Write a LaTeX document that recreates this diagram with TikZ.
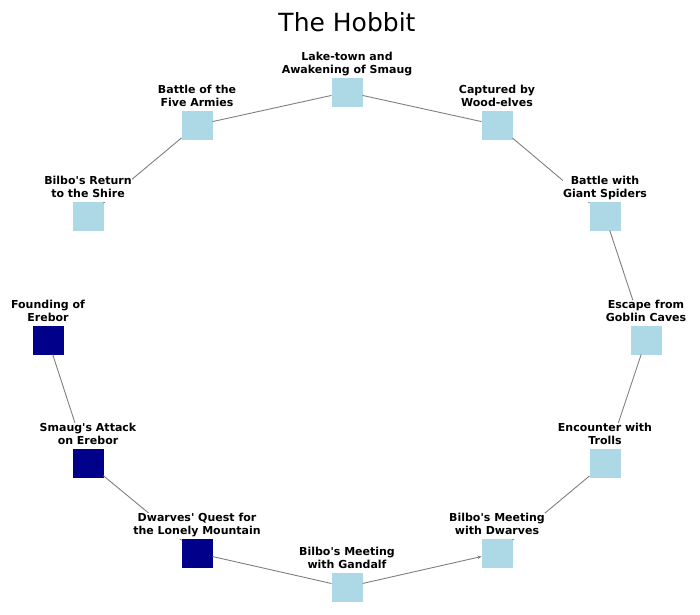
\documentclass[tikz,border=0pt]{standalone}
\usepackage{fontspec}
\setmainfont{DejaVu Sans}
\usetikzlibrary{positioning,arrows.meta}
\definecolor{eventblue}{HTML}{ADD8E6}
\definecolor{ereborblue}{HTML}{00008B}
\definecolor{linkgray}{HTML}{7F7F7F}

\begin{document}
\begin{tikzpicture}[x=1pt,y=-1pt,
  event/.style={rectangle,fill=eventblue,minimum width=31pt,minimum height=29pt,inner sep=0pt,outer sep=0pt},
  erebor/.style={event,fill=ereborblue},
  tag/.style={fill=white,inner sep=0.5pt,outer sep=0pt,align=center,font=\fontsize{11}{12.6}\selectfont\bfseries,
    execute at begin node=\rule{0pt}{12.5pt}},
  link/.style={draw=linkgray,line width=0.9pt}]
\useasboundingbox (0,0) rectangle (700,614);
\node(title) [anchor=base,font=\fontsize{25}{30}\selectfont] at (347,31) {The Hobbit};
\node(lake)     [event]  at (347,92)  {};
\node(five)     [event]  at (197,125) {};
\node(return)   [event]  at (88,216)  {};
\node(founding) [erebor] at (48,340)  {};
\node(attack)   [erebor] at (88,463)  {};
\node(quest)    [erebor] at (197,553) {};
\node(gandalf)  [event]  at (347,587) {};
\node(dwarves)  [event]  at (497,553) {};
\node(trolls)   [event]  at (605,463) {};
\node(goblin)   [event]  at (646,340) {};
\node(spiders)  [event]  at (605,216) {};
\node(wood)     [event]  at (497,125) {};
\draw[link] (founding) -- (attack);
\draw[link] (attack) -- (quest);
\draw[link] (quest) -- (gandalf);
\draw[link,-{Stealth[length=4pt,width=3.5pt]}] (gandalf) -- (dwarves);
\draw[link] (dwarves) -- (trolls);
\draw[link] (trolls) -- (goblin);
\draw[link] (goblin) -- (spiders);
\draw[link] (spiders) -- (wood);
\draw[link] (wood) -- (lake);
\draw[link] (lake) -- (five);
\draw[link] (five) -- (return);
\node(lakeTag)     [tag, above=0pt of lake]     {Lake-town and\\Awakening of Smaug\strut};
\node(fiveTag)     [tag, above=0pt of five]     {Battle of the\\Five Armies\strut};
\node(returnTag)   [tag, above=0pt of return]   {Bilbo\textquotesingle s Return\\to the Shire\strut};
\node(foundingTag) [tag, above=0pt of founding] {Founding of\\Erebor\strut};
\node(attackTag)   [tag, above=0pt of attack]   {Smaug\textquotesingle s Attack\\on Erebor\strut};
\node(questTag)    [tag, above=0pt of quest]    {Dwarves\textquotesingle{} Quest for\\the Lonely Mountain\strut};
\node(gandalfTag)  [tag, above=0pt of gandalf]  {Bilbo\textquotesingle s Meeting\\with Gandalf\strut};
\node(dwarvesTag)  [tag, above=0pt of dwarves]  {Bilbo\textquotesingle s Meeting\\with Dwarves\strut};
\node(trollsTag)   [tag, above=0pt of trolls]   {Encounter with\\Trolls\strut};
\node(goblinTag)   [tag, above=0pt of goblin]   {Escape from\\Goblin Caves\strut};
\node(spidersTag)  [tag, above=0pt of spiders]  {Battle with\\Giant Spiders\strut};
\node(woodTag)     [tag, above=0pt of wood]     {Captured by\\Wood-elves\strut};
\end{tikzpicture}
\end{document}
